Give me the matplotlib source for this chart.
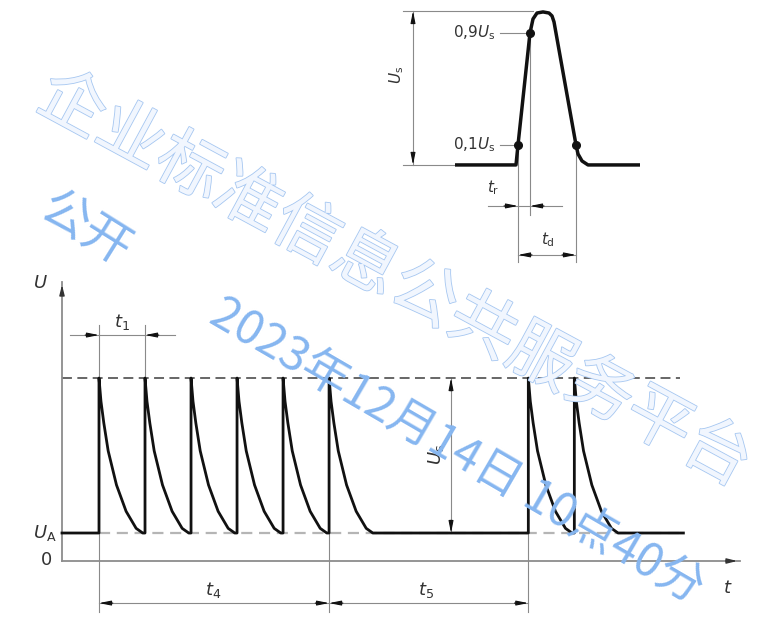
import matplotlib
matplotlib.use("Agg")
import matplotlib.pyplot as plt
import matplotlib.patheffects as pe
import numpy as np

plt.rcParams['font.family'] = ['DejaVu Sans']
plt.rcParams['mathtext.fontset'] = 'dejavusans'

# ---------------- data (main pulse train) ----------------
U_A = 0.153          # initial voltage level
U_S = 1.0            # pulse amplitude level
pulse_starts = [0, 1, 2, 3, 4, 5, 9.33, 10.33]   # in units of t1
decay_len = 0.95                                   # decay duration (t1 units)
decay_frac_t = [0, 0.045, 0.11, 0.21, 0.40, 0.62, 0.85, 1.0]
decay_frac_v = [1, 0.85, 0.71, 0.53, 0.31, 0.14, 0.03, 0.0]
t_signal_start = -0.804
t_signal_end = 12.70
t_upper_dash_end = 12.63

# ---------------- data (single pulse inset) ----------------
ins_t = [-6.3, -0.2, 0.0, 1.2, 1.5, 1.9, 2.5, 3.1, 3.4, 3.6, 5.8, 6.0, 6.4, 7.0, 12.2]
ins_u = [0.0, 0.0, 0.131, 0.863, 0.954, 0.993, 1.0, 0.993, 0.974, 0.935, 0.131, 0.072, 0.026, 0.0, 0.0]
ins_dot_t = [0.0, 1.2, 5.8]
ins_dot_u = [0.131, 0.863, 0.131]

INK = '#111111'
GREY = '#8a8a8a'
TXT = '#333333'

fig = plt.figure(figsize=(7.76, 6.17), dpi=100)

# ---------------- main axes ----------------
ax = fig.add_axes([62/776, (617-561)/617, (740-62)/776, (561-282)/617])
ax.set_xlim(-0.804, 13.93)
ax.set_ylim(0, 1.525)
ax.patch.set_alpha(0)
for s in ['top', 'right']:
    ax.spines[s].set_visible(False)
for s in ['left', 'bottom']:
    ax.spines[s].set_color('#8c8c8c')
    ax.spines[s].set_linewidth(1.3)
ax.set_xticks([])
ax.set_yticks([])

# axis arrows
AXA = dict(arrowstyle='-|>,head_length=0.6,head_width=0.15', color='#333', lw=1.0)
ax.annotate('', xy=(1.0, 0.0), xytext=(0.975, 0.0), xycoords='axes fraction',
            arrowprops=AXA, annotation_clip=False)
ax.annotate('', xy=(0.0, 1.0), xytext=(0.0, 0.96), xycoords='axes fraction',
            arrowprops=AXA, annotation_clip=False)

# reference levels
ax.plot([t_signal_start, t_upper_dash_end], [U_S, U_S], color='#5a5a5a', lw=1.3,
        ls=(0, (5.5, 3)), zorder=2)
ax.plot([pulse_starts[0], t_signal_end], [U_A, U_A], color='#b5b5b5', lw=1.6,
        ls=(0, (5, 3)), zorder=2)

# signal
ts, us = [t_signal_start], [U_A]
for p in pulse_starts:
    ts += [p, p]
    us += [U_A, U_S]
    for ft, fv in zip(decay_frac_t, decay_frac_v):
        ts.append(p + ft * decay_len)
        us.append(U_A + (U_S - U_A) * fv)
ts.append(t_signal_end)
us.append(U_A)
ax.plot(ts, us, color=INK, lw=2.0, solid_joinstyle='round', zorder=4, clip_on=False)

# extension lines
ext_top = 1.29
ext_bot = -0.28
ax.plot([pulse_starts[0]]*2, [ext_top, ext_bot], color=GREY, lw=0.8, clip_on=False, zorder=1)
ax.plot([pulse_starts[1]]*2, [ext_top, U_S], color=GREY, lw=0.8, clip_on=False, zorder=1)
ax.plot([pulse_starts[5]]*2, [U_A, ext_bot], color=GREY, lw=0.8, clip_on=False, zorder=1)
ax.plot([pulse_starts[6]]*2, [U_A, ext_bot], color=GREY, lw=0.8, clip_on=False, zorder=1)

ARW = dict(arrowstyle='-|>,head_length=0.7,head_width=0.14', color=INK, lw=0.8,
           shrinkA=0, shrinkB=0)

def hline(a, x0, x1, y):
    a.plot([x0, x1], [y, y], color=GREY, lw=0.8, clip_on=False, zorder=1)

def arrow(a, tip, tail):
    a.annotate('', xy=tip, xytext=tail, arrowprops=ARW, annotation_clip=False)

# t1 dimension (arrows outside pointing in)
y1 = 1.235
hline(ax, -0.63, 1.65, y1)
arrow(ax, (pulse_starts[0], y1), (pulse_starts[0] - 0.3, y1))
arrow(ax, (pulse_starts[1], y1), (pulse_starts[1] + 0.3, y1))
# t4, t5 dimension
y4 = -0.23
hline(ax, pulse_starts[0], pulse_starts[6], y4)
for (a0, a1) in [(pulse_starts[0], pulse_starts[5]), (pulse_starts[5], pulse_starts[6])]:
    arrow(ax, (a0, y4), (a0 + 0.3, y4))
    arrow(ax, (a1, y4), (a1 - 0.3, y4))
# Us dimension
xs = 7.65
ax.plot([xs, xs], [U_A, U_S], color=GREY, lw=0.8, zorder=1)
arrow(ax, (xs, U_S), (xs, U_S - 0.07))
arrow(ax, (xs, U_A), (xs, U_A + 0.07))

fs = 13
ax.text(0.5, 1.306, r'$t_1$', fontsize=fs, color=TXT, ha='center', va='center')
ax.text(2.48, -0.16, r'$t_4$', fontsize=fs, color=TXT, ha='center', va='center', clip_on=False)
ax.text(7.1, -0.16, r'$t_5$', fontsize=fs, color=TXT, ha='center', va='center', clip_on=False)
ax.text(7.33, 0.58, r'$U_\mathrm{s}$', fontsize=fs, color=TXT, ha='center', va='center', rotation=90)
ax.text(-1.28, 1.52, r'$U$', fontsize=fs, color=TXT, ha='center', va='center', clip_on=False)
ax.text(-0.92, U_A, r'$U_\mathrm{A}$', fontsize=fs, color=TXT, ha='right', va='center', clip_on=False)
ax.text(-1.13, 0.005, '0', fontsize=fs, color=TXT, ha='center', va='center', clip_on=False)
ax.text(13.67, -0.148, r'$t$', fontsize=fs, color=TXT, ha='center', va='center', clip_on=False)

# ---------------- inset (single pulse) ----------------
ai = fig.add_axes([380/776, (617-280)/617, 280/776, 280/617])
ai.set_xlim(-13.8, 14.2)
ai.set_ylim(-0.752, 1.078)
ai.axis('off')
ai.plot(ins_t, ins_u, color=INK, lw=2.5, solid_joinstyle='round', solid_capstyle='butt', zorder=4)
ai.plot(ins_dot_t, ins_dot_u, 'o', color=INK, ms=5.5, zorder=5)

# leaders and extension lines
ai.plot([-1.8, ins_dot_t[1]], [ins_dot_u[1]]*2, color=GREY, lw=0.8)
ai.plot([-1.8, ins_dot_t[0]], [ins_dot_u[0]]*2, color=GREY, lw=0.8)
ai.plot([-11.5, 1.5], [1.006, 1.006], color=GREY, lw=0.8)
ai.plot([-11.5, ins_t[0]], [0, 0], color=GREY, lw=0.8)
ai.plot([ins_dot_t[0]]*2, [ins_dot_u[0], -0.634], color=GREY, lw=0.8)
ai.plot([ins_dot_t[1]]*2, [ins_dot_u[1], -0.327], color=GREY, lw=0.8)
ai.plot([ins_dot_t[2]]*2, [ins_dot_u[2], -0.634], color=GREY, lw=0.8)
# Us
ai.plot([-10.5, -10.5], [0, 1.006], color=GREY, lw=0.8)
arrow(ai, (-10.5, 1.006), (-10.5, 0.93))
arrow(ai, (-10.5, 0.0), (-10.5, 0.076))
# tr (outside arrows)
ytr = -0.268
ai.plot([-3.0, 4.4], [ytr, ytr], color=GREY, lw=0.8)
arrow(ai, (ins_dot_t[0], ytr), (ins_dot_t[0] - 1.4, ytr))
arrow(ai, (ins_dot_t[1], ytr), (ins_dot_t[1] + 1.4, ytr))
# td (inside arrows)
ytd = -0.588
ai.plot([ins_dot_t[0], ins_dot_t[2]], [ytd, ytd], color=GREY, lw=0.8)
arrow(ai, (ins_dot_t[0], ytd), (ins_dot_t[0] + 1.4, ytd))
arrow(ai, (ins_dot_t[2], ytd), (ins_dot_t[2] - 1.4, ytd))

fi = 11
ai.text(-2.3, ins_dot_u[1], r'0,9$U_\mathrm{s}$', fontsize=fi, color=TXT, ha='right', va='center')
ai.text(-2.3, ins_dot_u[0], r'0,1$U_\mathrm{s}$', fontsize=fi, color=TXT, ha='right', va='center')
ai.text(-12.1, 0.588, r'$U_\mathrm{s}$', fontsize=fi, color=TXT, ha='center', va='center', rotation=90)
ai.text(-2.5, -0.15, r'$t_\mathrm{r}$', fontsize=fi, color=TXT, ha='center', va='center')
ai.text(3.0, -0.49, r'$t_\mathrm{d}$', fontsize=fi, color=TXT, ha='center', va='center')

# ---------------- watermark ----------------
CJK = ['Noto Sans CJK SC', 'DejaVu Sans']
fig.text(394/776, 1-280/617, '企业标准信息公共服务平台', family=CJK, fontsize=48, weight=200,
         color='#f1f6fe', rotation=-28.4, rotation_mode='anchor', ha='center', va='center',
         path_effects=[pe.Stroke(linewidth=1.2, foreground='#a6c7f1'), pe.Normal()], zorder=10)
fig.text(85/776, 1-230/617, '公开', family=CJK, fontsize=35, weight=200,
         color='#86b6f0', rotation=-32, rotation_mode='anchor', ha='center', va='center', zorder=10)
fig.text(456/776, 1-451/617, '2023年12月14日 10点40分', family=CJK, fontsize=34, weight=200,
         color='#86b6f0', rotation=-30.2, rotation_mode='anchor', ha='center', va='center', zorder=10)

fig.savefig('out.png', dpi=100)
